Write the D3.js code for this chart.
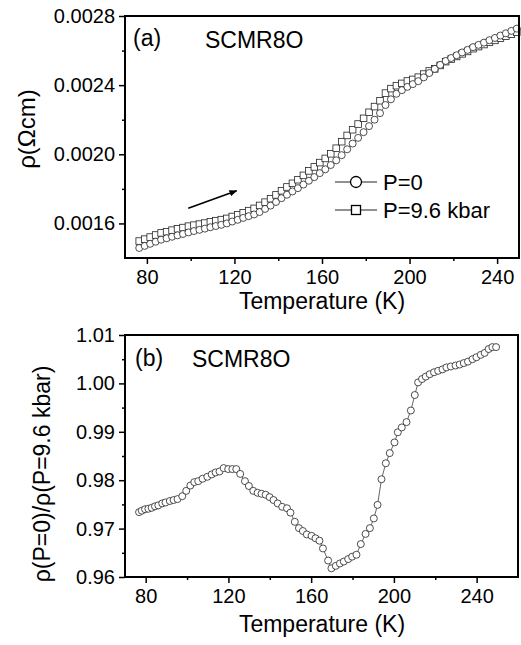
<!DOCTYPE html>
<html>
<head>
<meta charset="utf-8">
<script src="https://cdn.jsdelivr.net/npm/d3@7/dist/d3.min.js"></script>
<style>
body{margin:0;background:#fff;}
text{font-family:"Liberation Sans",Arial,sans-serif;fill:#000;}
</style>
</head>
<body>
<svg id="chart" width="521" height="645"></svg>
<script>
// panel (a): resistivity vs temperature
var tempA = [76.5,79,81.5,84,86.5,89,91.5,94,96.5,99,
  101.5,104,106.5,109,111.5,114,116.5,119,121.5,124,
  126.5,129,131.5,134,136.5,139,141.5,144,146.5,149,
  151.5,154,156.5,159,161.5,164,166.5,169,171.5,174,
  176.5,179,181.5,184,186.5,189,191.5,194,196.5,199,
  201.5,204,206.5,209,211.5,214,216.5,219,221.5,224,
  226.5,229,231.5,234,236.5,239,241.5,244,246.5,249];
var rhoP0 = [.001458,.001470,.001482,.001494,.001506,.001514,.001523,.001531,.001539,.001548,
  .001556,.001563,.001570,.001578,.001585,.001592,.001600,.001611,.001621,.001632,
  .001642,.001652,.001666,.001684,.001703,.001724,.001746,.001766,.001785,.001804,
  .001825,.001847,.001868,.001891,.001913,.001938,.001965,.001995,.002029,.002062,
  .002095,.002128,.002163,.002200,.002238,.002285,.002318,.002350,.002371,.002390,
  .002406,.002423,.002445,.002470,.002494,.002517,.002540,.002557,.002573,.002589,
  .002604,.002620,.002633,.002646,.002660,.002673,.002687,.002700,.002714,.002727];
var rhoP96 = [.001498,.001509,.001521,.001533,.001545,.001552,.001561,.001569,.001576,.001584,
  .001590,.001596,.001602,.001609,.001616,.001622,.001629,.001640,.001650,.001662,
  .001674,.001687,.001704,.001723,.001743,.001765,.001789,.001811,.001832,.001853,
  .001878,.001904,.001927,.001952,.001976,.002003,.002035,.002073,.002109,.002142,
  .002175,.002208,.002243,.002276,.002310,.002354,.002380,.002397,.002410,.002424,
  .002433,.002446,.002464,.002482,.002494,.002514,.002536,.002551,.002566,.002581,
  .002595,.002611,.002623,.002635,.002648,.002659,.002672,.002683,.002695,.002707];
// heating direction arrow, data units [T, rho]
var arrowPts = [[98.9,.001688],[121.0,.001789]];

// panel (b): ratio
var tempB = [76.8,78.1,79.7,81.3,82.9,84.5,86.1,88.0,89.6,91.7,
  93.5,95.4,97.7,99.6,101.6,103.5,105.4,107.5,109.8,111.9,
  113.8,115.7,117.7,119.9,121.9,123.8,125.7,128.0,129.9,132.0,
  134.1,136.0,138.0,139.9,141.8,143.8,146.0,148.3,150.0,152.1,
  154.1,156.0,157.9,160.2,162.1,164.0,165.7,168.2,169.8,171.9,
  173.9,175.8,177.9,179.8,181.9,184.0,186.3,188.4,190.3,192.1,
  194.0,196.1,198.0,200.3,201.9,203.8,206.1,208.2,210.1,211.7,
  213.6,215.4,217.3,219.4,221.4,223.5,225.4,227.5,229.8,231.8,
  233.8,235.8,238.0,239.9,242.0,243.9,245.8,247.6,249.4];
var ratio = [.9734,.9737,.9740,.9741,.9743,.9746,.9748,.9752,.9754,.9757,
  .9759,.9761,.9767,.9778,.9789,.9796,.9798,.9803,.9807,.9812,
  .9816,.9818,.9825,.9823,.9823,.9823,.9813,.9798,.9788,.9778,
  .9774,.9772,.9770,.9765,.9759,.9752,.9745,.9742,.9733,.9714,
  .9701,.9695,.9688,.9685,.9680,.9675,.9659,.9634,.9618,.9623,
  .9628,.9632,.9637,.9642,.9646,.9668,.9689,.9701,.9721,.9749,
  .9802,.9835,.9856,.9878,.9899,.9909,.9920,.9944,.9976,1.0002,
  1.0009,1.0014,1.0019,1.0023,1.0026,1.0029,1.0033,1.0035,1.0037,1.0039,
  1.0042,1.0045,1.0050,1.0054,1.0059,1.0063,1.0071,1.0075,1.0075];

var xTicks = [80,120,160,200,240];
var xMinorA = [100,140,180,220];
var xMinorB = [100,140,180,220];
var yTicksA = [0.0016,0.0020,0.0024,0.0028];
var yMinorA = [0.0018,0.0022,0.0026];
var yTicksB = [0.96,0.97,0.98,0.99,1.00,1.01];
var yMinorB = [0.965,0.975,0.985,0.995,1.005];
var seriesNames = ["P=0","P=9.6 kbar"];

var svg = d3.select("#chart");
var ink = "#222";

function drawAxes(g, x, y, xMinor, yMajor, yMinor, yFmt, titleGap){
	var x0 = x.range()[0], x1 = x.range()[1];
	var y0 = y.range()[0], y1 = y.range()[1];
	var xa = g.append("g").attr("transform","translate(0,"+y0+")")
		.call(d3.axisBottom(x).tickValues(xTicks).tickSize(6).tickPadding(6).tickFormat(d3.format("d")));
	var xm = g.append("g").attr("transform","translate(0,"+y0+")")
		.call(d3.axisBottom(x).tickValues(xMinor).tickSize(3).tickFormat(""));
	var ya = g.append("g").attr("transform","translate("+x0+",0)")
		.call(d3.axisLeft(y).tickValues(yMajor).tickSize(6).tickPadding(4).tickFormat(yFmt));
	var ym = g.append("g").attr("transform","translate("+x0+",0)")
		.call(d3.axisLeft(y).tickValues(yMinor).tickSize(3).tickFormat(""));
	[xa,xm,ya,ym].forEach(function(a){
		a.select(".domain").remove();
		a.selectAll("line").attr("stroke","#000").attr("stroke-width",1.5);
		a.selectAll("text").attr("font-size",20).attr("font-family","Liberation Sans, Arial, sans-serif").attr("fill","#000");
	});
	g.append("rect").attr("x",x0).attr("y",y1).attr("width",x1-x0).attr("height",y0-y1)
		.attr("fill","none").attr("stroke","#000").attr("stroke-width",2);
	g.append("text").attr("x",322).attr("y",y0+titleGap).attr("text-anchor","middle")
		.attr("font-size",23).text("Temperature (K)");
}

// ---- panel (a)
var xA = d3.scaleLinear().domain([70,250]).range([125,519]);
var yA = d3.scaleLinear().domain([0.0014,0.0028]).range([258,16]);
var gA = svg.append("g");

var lineA0 = d3.line().x(function(d,i){return xA(tempA[i]);}).y(function(d){return yA(d);});
gA.append("path").datum(rhoP96).attr("d",lineA0).attr("fill","none").attr("stroke",ink).attr("stroke-width",0.6);
gA.append("path").datum(rhoP0).attr("d",lineA0).attr("fill","none").attr("stroke",ink).attr("stroke-width",0.6);

gA.selectAll("rect.sq").data(rhoP96).enter().append("rect").attr("class","sq")
	.attr("x",function(d,i){return xA(tempA[i])-3.3;})
	.attr("y",function(d){return yA(d)-3.3;})
	.attr("width",6.6).attr("height",6.6)
	.attr("fill","#fff").attr("stroke",ink).attr("stroke-width",0.8);
gA.selectAll("circle.c0").data(rhoP0).enter().append("circle").attr("class","c0")
	.attr("cx",function(d,i){return xA(tempA[i]);})
	.attr("cy",function(d){return yA(d);})
	.attr("r",3.5)
	.attr("fill","#fff").attr("stroke",ink).attr("stroke-width",0.8);

// arrow
svg.append("defs").append("marker").attr("id","head")
	.attr("viewBox","0 0 10 10").attr("refX",9).attr("refY",5)
	.attr("markerWidth",5).attr("markerHeight",5).attr("orient","auto")
	.append("path").attr("d","M0,1L10,5L0,9z").attr("fill","#000");
gA.append("path").datum(arrowPts)
	.attr("d",d3.line().x(function(d){return xA(d[0]);}).y(function(d){return yA(d[1]);}))
	.attr("stroke","#000").attr("stroke-width",1.6).attr("marker-end","url(#head)");

drawAxes(gA, xA, yA, xMinorA, yTicksA, yMinorA, d3.format(".4f"), 51);

gA.append("text").attr("x",133).attr("y",46).attr("font-size",23).text("(a)");
gA.append("text").attr("x",205).attr("y",48).attr("font-size",23).text("SCMR8O");
gA.append("text").attr("transform","translate(35,129) rotate(-90)")
	.attr("text-anchor","middle").attr("font-size",24).text("ρ(Ωcm)");

// legend
var leg = gA.selectAll("g.leg").data(seriesNames).enter().append("g").attr("class","leg")
	.attr("transform",function(d,i){return "translate(335,"+(182+i*28)+")";});
leg.append("line").attr("x1",0).attr("x2",42).attr("y1",0).attr("y2",0)
	.attr("stroke",ink).attr("stroke-width",1);
leg.each(function(d,i){
	var s = d3.select(this);
	if(i==0){
		s.append("circle").attr("cx",21).attr("cy",0).attr("r",5.5)
			.attr("fill","#fff").attr("stroke","#000").attr("stroke-width",1.3);
	} else {
		s.append("rect").attr("x",16.5).attr("y",-4.5).attr("width",9).attr("height",9)
			.attr("fill","#fff").attr("stroke","#000").attr("stroke-width",1.3);
	}
});
leg.append("text").attr("x",48).attr("y",8).attr("font-size",22).text(function(d){return d;});

// ---- panel (b)
var xB = d3.scaleLinear().domain([70,260]).range([125,518]);
var yB = d3.scaleLinear().domain([0.96,1.01]).range([577,335]);
var gB = svg.append("g");

gB.append("path").datum(ratio)
	.attr("d",d3.line().x(function(d,i){return xB(tempB[i]);}).y(function(d){return yB(d);}))
	.attr("fill","none").attr("stroke",ink).attr("stroke-width",0.7);
gB.selectAll("circle").data(ratio).enter().append("circle")
	.attr("cx",function(d,i){return xB(tempB[i]);})
	.attr("cy",function(d){return yB(d);})
	.attr("r",3.5)
	.attr("fill","#fff").attr("stroke",ink).attr("stroke-width",0.8);

drawAxes(gB, xB, yB, xMinorB, yTicksB, yMinorB, d3.format(".2f"), 55);

gB.append("text").attr("x",135).attr("y",366).attr("font-size",23).text("(b)");
gB.append("text").attr("x",192).attr("y",367).attr("font-size",23).text("SCMR8O");
gB.append("text").attr("transform","translate(50,474) rotate(-90)")
	.attr("text-anchor","middle").attr("font-size",23).text("ρ(P=0)/ρ(P=9.6 kbar)");
</script>
</body>
</html>
